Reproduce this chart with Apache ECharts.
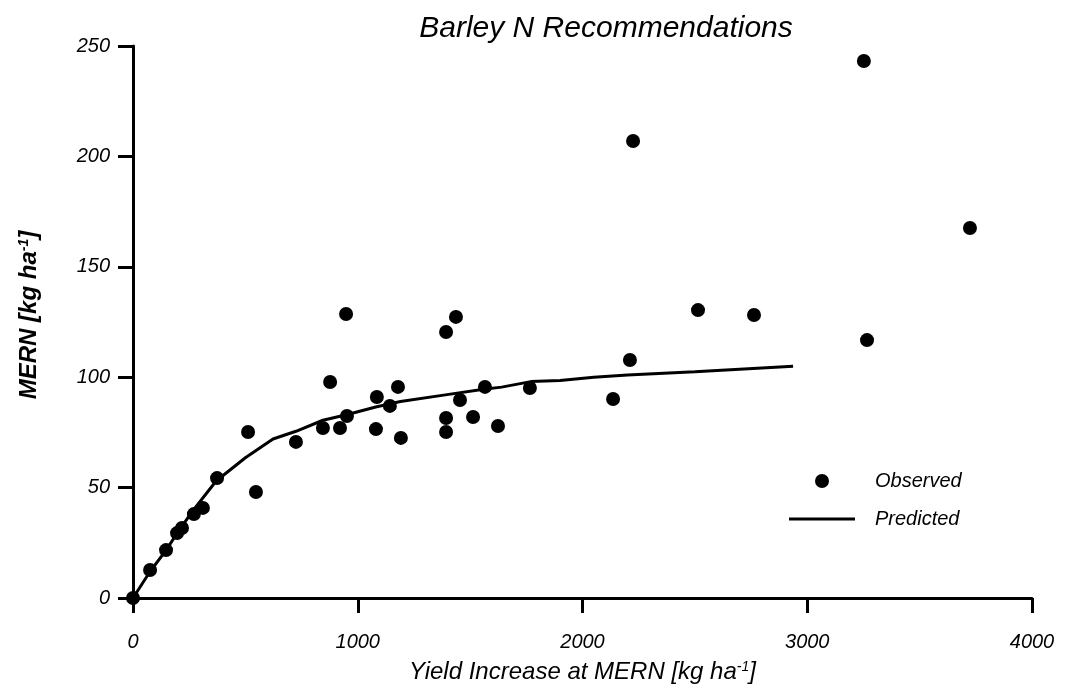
<!DOCTYPE html>
<html>
<head>
<meta charset="utf-8">
<script src="https://cdn.jsdelivr.net/npm/echarts@6/dist/echarts.min.js"></script>
<style>
  html, body { margin: 0; padding: 0; background: #fff; }
  #chart { width: 1071px; height: 694px; }
</style>
</head>
<body>
<div id="chart"></div>
<script>
// Observed MERN vs. yield increase (kg/ha)
const observedX = [0, 76, 147, 196, 218, 271, 311, 374, 512, 547, 725, 845, 877, 921, 948, 952,
  1081, 1085, 1143, 1179, 1192, 1393, 1393, 1393, 1437, 1455, 1513, 1566, 1624, 1766,
  2136, 2211, 2225, 2514, 2763, 3252, 3266, 3724];
const observedY = [0, 12.7, 21.7, 29.4, 31.7, 38, 40.8, 54.3, 75.2, 48, 70.7, 77, 97.8, 77, 128.6, 82.4,
  76.5, 91, 87, 95.6, 72.5, 120.5, 81.5, 75.2, 127.3, 89.7, 82, 95.6, 77.9, 95.1,
  90.1, 107.8, 207, 130.4, 128.2, 243.2, 116.8, 167.6];

// Model-predicted MERN curve
const predictedX = [0, 76, 150, 200, 270, 370, 500, 623, 725, 845, 950, 1080, 1190, 1390, 1560, 1640, 1770, 1900, 2050, 2200, 2500, 2937];
const predictedY = [0, 12, 22, 30, 40, 53, 63.5, 72, 75.5, 80.5, 83, 86.5, 89, 92, 94.5, 95.5, 98, 98.5, 100, 101, 102.5, 105];

const xTicks = [0, 1000, 2000, 3000, 4000];
const yTicks = [0, 50, 100, 150, 200, 250];

const observed = observedX.map((x, i) => [x, observedY[i]]);
const predicted = predictedX.map((x, i) => [x, predictedY[i]]);

const FONT = '"Liberation Sans", Arial, sans-serif';
const plain = v => String(v);

const chart = echarts.init(document.getElementById('chart'), null, { renderer: 'canvas' });
chart.setOption({
  backgroundColor: '#ffffff',
  animation: false,
  title: {
    text: 'Barley N Recommendations',
    left: 601,
    textAlign: 'center',
    top: 9,
    textStyle: { fontFamily: FONT, fontStyle: 'italic', fontWeight: 'normal', fontSize: 30, color: '#000' }
  },
  grid: { left: 133, right: 39, top: 46, bottom: 96, containLabel: false },
  legend: {
    orient: 'vertical',
    left: 784,
    top: 466,
    itemWidth: 66,
    itemHeight: 14,
    itemGap: 18,
    data: [
      { name: 'Observed', icon: 'circle' },
      { name: 'Predicted', icon: 'path://M0,0L66,0L66,3L0,3Z' }
    ],
    textStyle: { fontFamily: FONT, fontStyle: 'italic', fontSize: 20, color: '#000', padding: [0, 0, 0, 15] }
  },
  xAxis: {
    type: 'value',
    min: xTicks[0],
    max: xTicks[xTicks.length - 1],
    interval: 1000,
    name: 'Yield Increase at MERN [kg ha{sup|-1}]',
    nameLocation: 'middle',
    nameGap: 62,
    nameTextStyle: {
      fontFamily: FONT, fontStyle: 'italic', fontSize: 24, color: '#000',
      rich: { sup: { fontFamily: FONT, fontStyle: 'italic', fontSize: 14, color: '#000', verticalAlign: 'top', padding: [0, 0, 10, 0] } }
    },
    axisLine: { show: true, onZero: false, lineStyle: { color: '#000', width: 3 } },
    axisTick: { show: true, length: 15, lineStyle: { color: '#000', width: 3 } },
    axisLabel: { margin: 34, fontFamily: FONT, fontStyle: 'italic', fontSize: 20, color: '#000', formatter: plain },
    splitLine: { show: false }
  },
  yAxis: {
    type: 'value',
    min: yTicks[0],
    max: yTicks[yTicks.length - 1],
    interval: 50,
    name: 'MERN [kg ha{sup|-1}]',
    nameLocation: 'middle',
    nameGap: 92,
    nameRotate: 90,
    nameTextStyle: {
      fontFamily: FONT, fontStyle: 'italic', fontWeight: 'bold', fontSize: 24, color: '#000',
      padding: [0, 0, 0, 14],
      rich: { sup: { fontFamily: FONT, fontStyle: 'italic', fontWeight: 'bold', fontSize: 14, color: '#000', verticalAlign: 'top', padding: [0, 0, 10, 0] } }
    },
    axisLine: { show: true, onZero: false, lineStyle: { color: '#000', width: 3 } },
    axisTick: { show: true, length: 15, lineStyle: { color: '#000', width: 3 } },
    axisLabel: { margin: 23, fontFamily: FONT, fontStyle: 'italic', fontSize: 20, color: '#000', formatter: plain },
    splitLine: { show: false }
  },
  series: [
    {
      name: 'Observed',
      type: 'scatter',
      data: observed,
      symbol: 'circle',
      symbolSize: 14,
      itemStyle: { color: '#000', opacity: 1 },
      z: 3
    },
    {
      name: 'Predicted',
      type: 'line',
      data: predicted,
      showSymbol: false,
      symbol: 'none',
      lineStyle: { color: '#000', width: 3 },
      itemStyle: { color: '#000' },
      z: 2
    }
  ]
});
</script>
</body>
</html>
